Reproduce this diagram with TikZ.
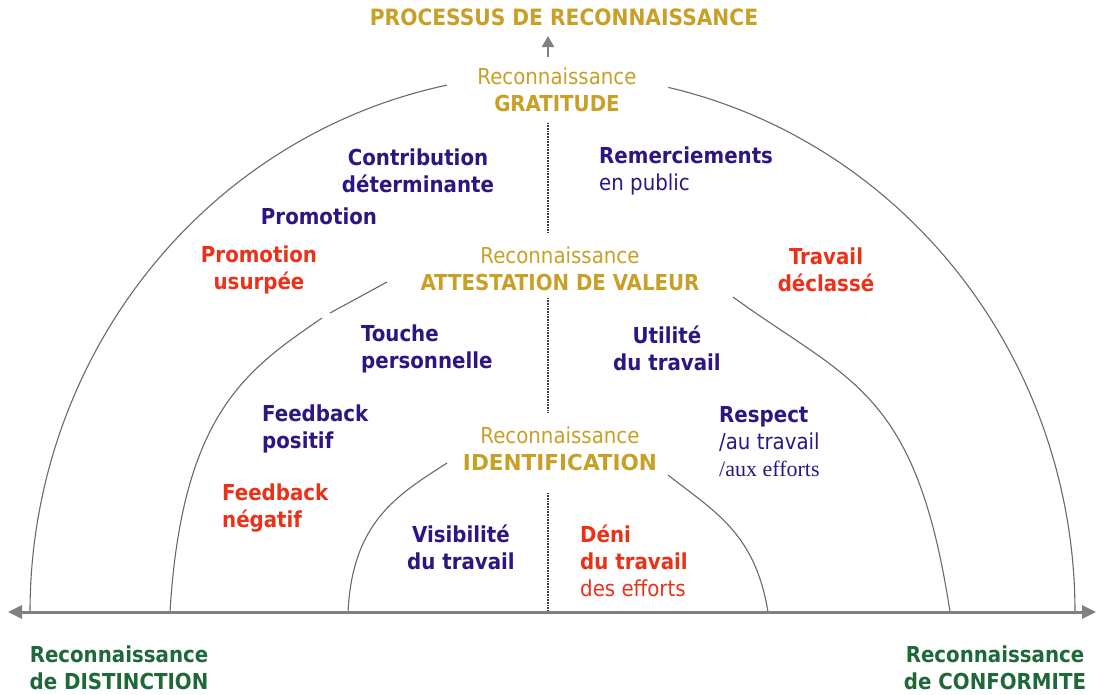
\documentclass[tikz,border=0pt]{standalone}
\usepackage{fontspec}
\setmainfont{DejaVu Sans Condensed}[BoldFont={DejaVu Sans Condensed Bold}]
\newfontfamily\serifaux{Liberation Serif}
\usetikzlibrary{arrows.meta}
\definecolor{gold}{RGB}{200,160,40}
\definecolor{ink}{RGB}{46,22,130}
\definecolor{rouge}{RGB}{235,50,25}
\definecolor{vert}{RGB}{30,105,55}
\definecolor{axe}{RGB}{128,128,128}
\definecolor{arcc}{RGB}{105,105,105}
\begin{document}
\begin{tikzpicture}[x=1pt,y=-1pt,
  lbl/.style={inner sep=0pt, font=\fontsize{22}{27}\selectfont},
  lblb/.style={inner sep=0pt, font=\fontsize{22}{27}\selectfont\bfseries},
  lblc/.style={lbl, align=center},
  lblbc/.style={lblb, align=center},
  lbll/.style={lbl, align=left, anchor=west},
  lblbl/.style={lblb, align=left, anchor=west},
  arcline/.style={draw=arcc, line width=1.1pt},
  dotline/.style={draw=black!75, line width=1.6pt, dash pattern=on 0.8pt off 0.8pt},
  axisline/.style={draw=axe, line width=3pt, {Triangle[length=14pt,width=13pt]}-{Triangle[length=14pt,width=13pt]}},
  uparrow/.style={draw=axe, line width=2pt, -{Triangle[length=11pt,width=12pt]}}
]
\useasboundingbox (0,0) rectangle (1097,694);

% title and arrow
\node[lblbc, text=gold, font=\fontsize{22.5}{27}\selectfont\bfseries] (title) at (564,17) {PROCESSUS DE RECONNAISSANCE};
\coordinate (upS) at (548,57);
\coordinate (upE) at (548,36);
\draw[uparrow] (upS) -- (upE);

% arcs
\draw[arcline] plot[domain=180:101.65, samples=80, smooth] ({552.5+522.5*cos(\x)},{612-538*sin(\x)});
\draw[arcline] plot[domain=0:77.2, samples=80, smooth] ({552.5+522.5*cos(\x)},{612-538*sin(\x)});
\draw[arcline] (170,612) .. controls (182,412) and (248,369) .. (322,318);
\draw[arcline] (330,313) -- (387,282);
\draw[arcline] (950,612) .. controls (916,389) and (850,382) .. (733,297);
\draw[arcline] (348,612) .. controls (352.5,522) and (396.6,495.4) .. (447,463);
\draw[arcline] (768,612) .. controls (755,533) and (715,512) .. (668,475);

% dotted centre line
\coordinate (d1a) at (548,123); \coordinate (d1b) at (548,233);
\coordinate (d2a) at (548,298); \coordinate (d2b) at (548,413);
\coordinate (d3a) at (548,493); \coordinate (d3b) at (548,612);
\draw[dotline] (d1a) -- (d1b);
\draw[dotline] (d2a) -- (d2b);
\draw[dotline] (d3a) -- (d3b);

% axis
\coordinate (axL) at (8,612);
\coordinate (axR) at (1096,612);
\draw[axisline] (axL) -- (axR);

% level labels
\node[lblc, text=gold] (grat) at (557,89.5) {Reconnaissance\\\textbf{GRATITUDE}};
\node[lblc, text=gold] (att) at (560,269) {Reconnaissance\\\textbf{ATTESTATION DE VALEUR}};
\node[lblc, text=gold] (ident) at (560,449) {Reconnaissance\\\scalebox{1.09}[1]{\textbf{IDENTIFICATION}}};

% content labels
\node[lblbc, text=ink] (contrib) at (418,170.5) {Contribution\\déterminante};
\node[lbll, text=ink] (remerc) at (599,170.5) {\textbf{Remerciements}\\en public};
\node[lblbc, text=ink] (promo) at (319,216) {Promotion};
\node[lblbc, text=rouge] (promous) at (259,269.5) {Promotion\\usurpée};
\node[lblbc, text=rouge] (travail) at (826,269.5) {Travail\\déclassé};
\node[lblbl, text=ink] (touche) at (361,348.5) {Touche\\personnelle};
\node[lblbc, text=ink] (utilite) at (667,348.5) {Utilité\\du travail};
\node[lblbl, text=ink] (fbpos) at (262,428.5) {Feedback\\positif};
\node[lbll, text=ink] (respect) at (719,441.5) {\textbf{Respect}\\/au travail\\{\serifaux /aux efforts}};
\node[lblbl, text=rouge] (fbneg) at (222,508.5) {Feedback\\négatif};
\node[lblbc, text=ink] (visib) at (461,547.5) {Visibilité\\du travail};
\node[lbll, text=rouge] (deni) at (580,561) {\textbf{Déni}\\\textbf{du travail}\\des efforts};

% axis labels
\node[lblbc, text=vert] (distinct) at (119,668) {Reconnaissance\\de DISTINCTION};
\node[lblbc, text=vert] (conform) at (995,668) {Reconnaissance\\de CONFORMITE};
\end{tikzpicture}
\end{document}
